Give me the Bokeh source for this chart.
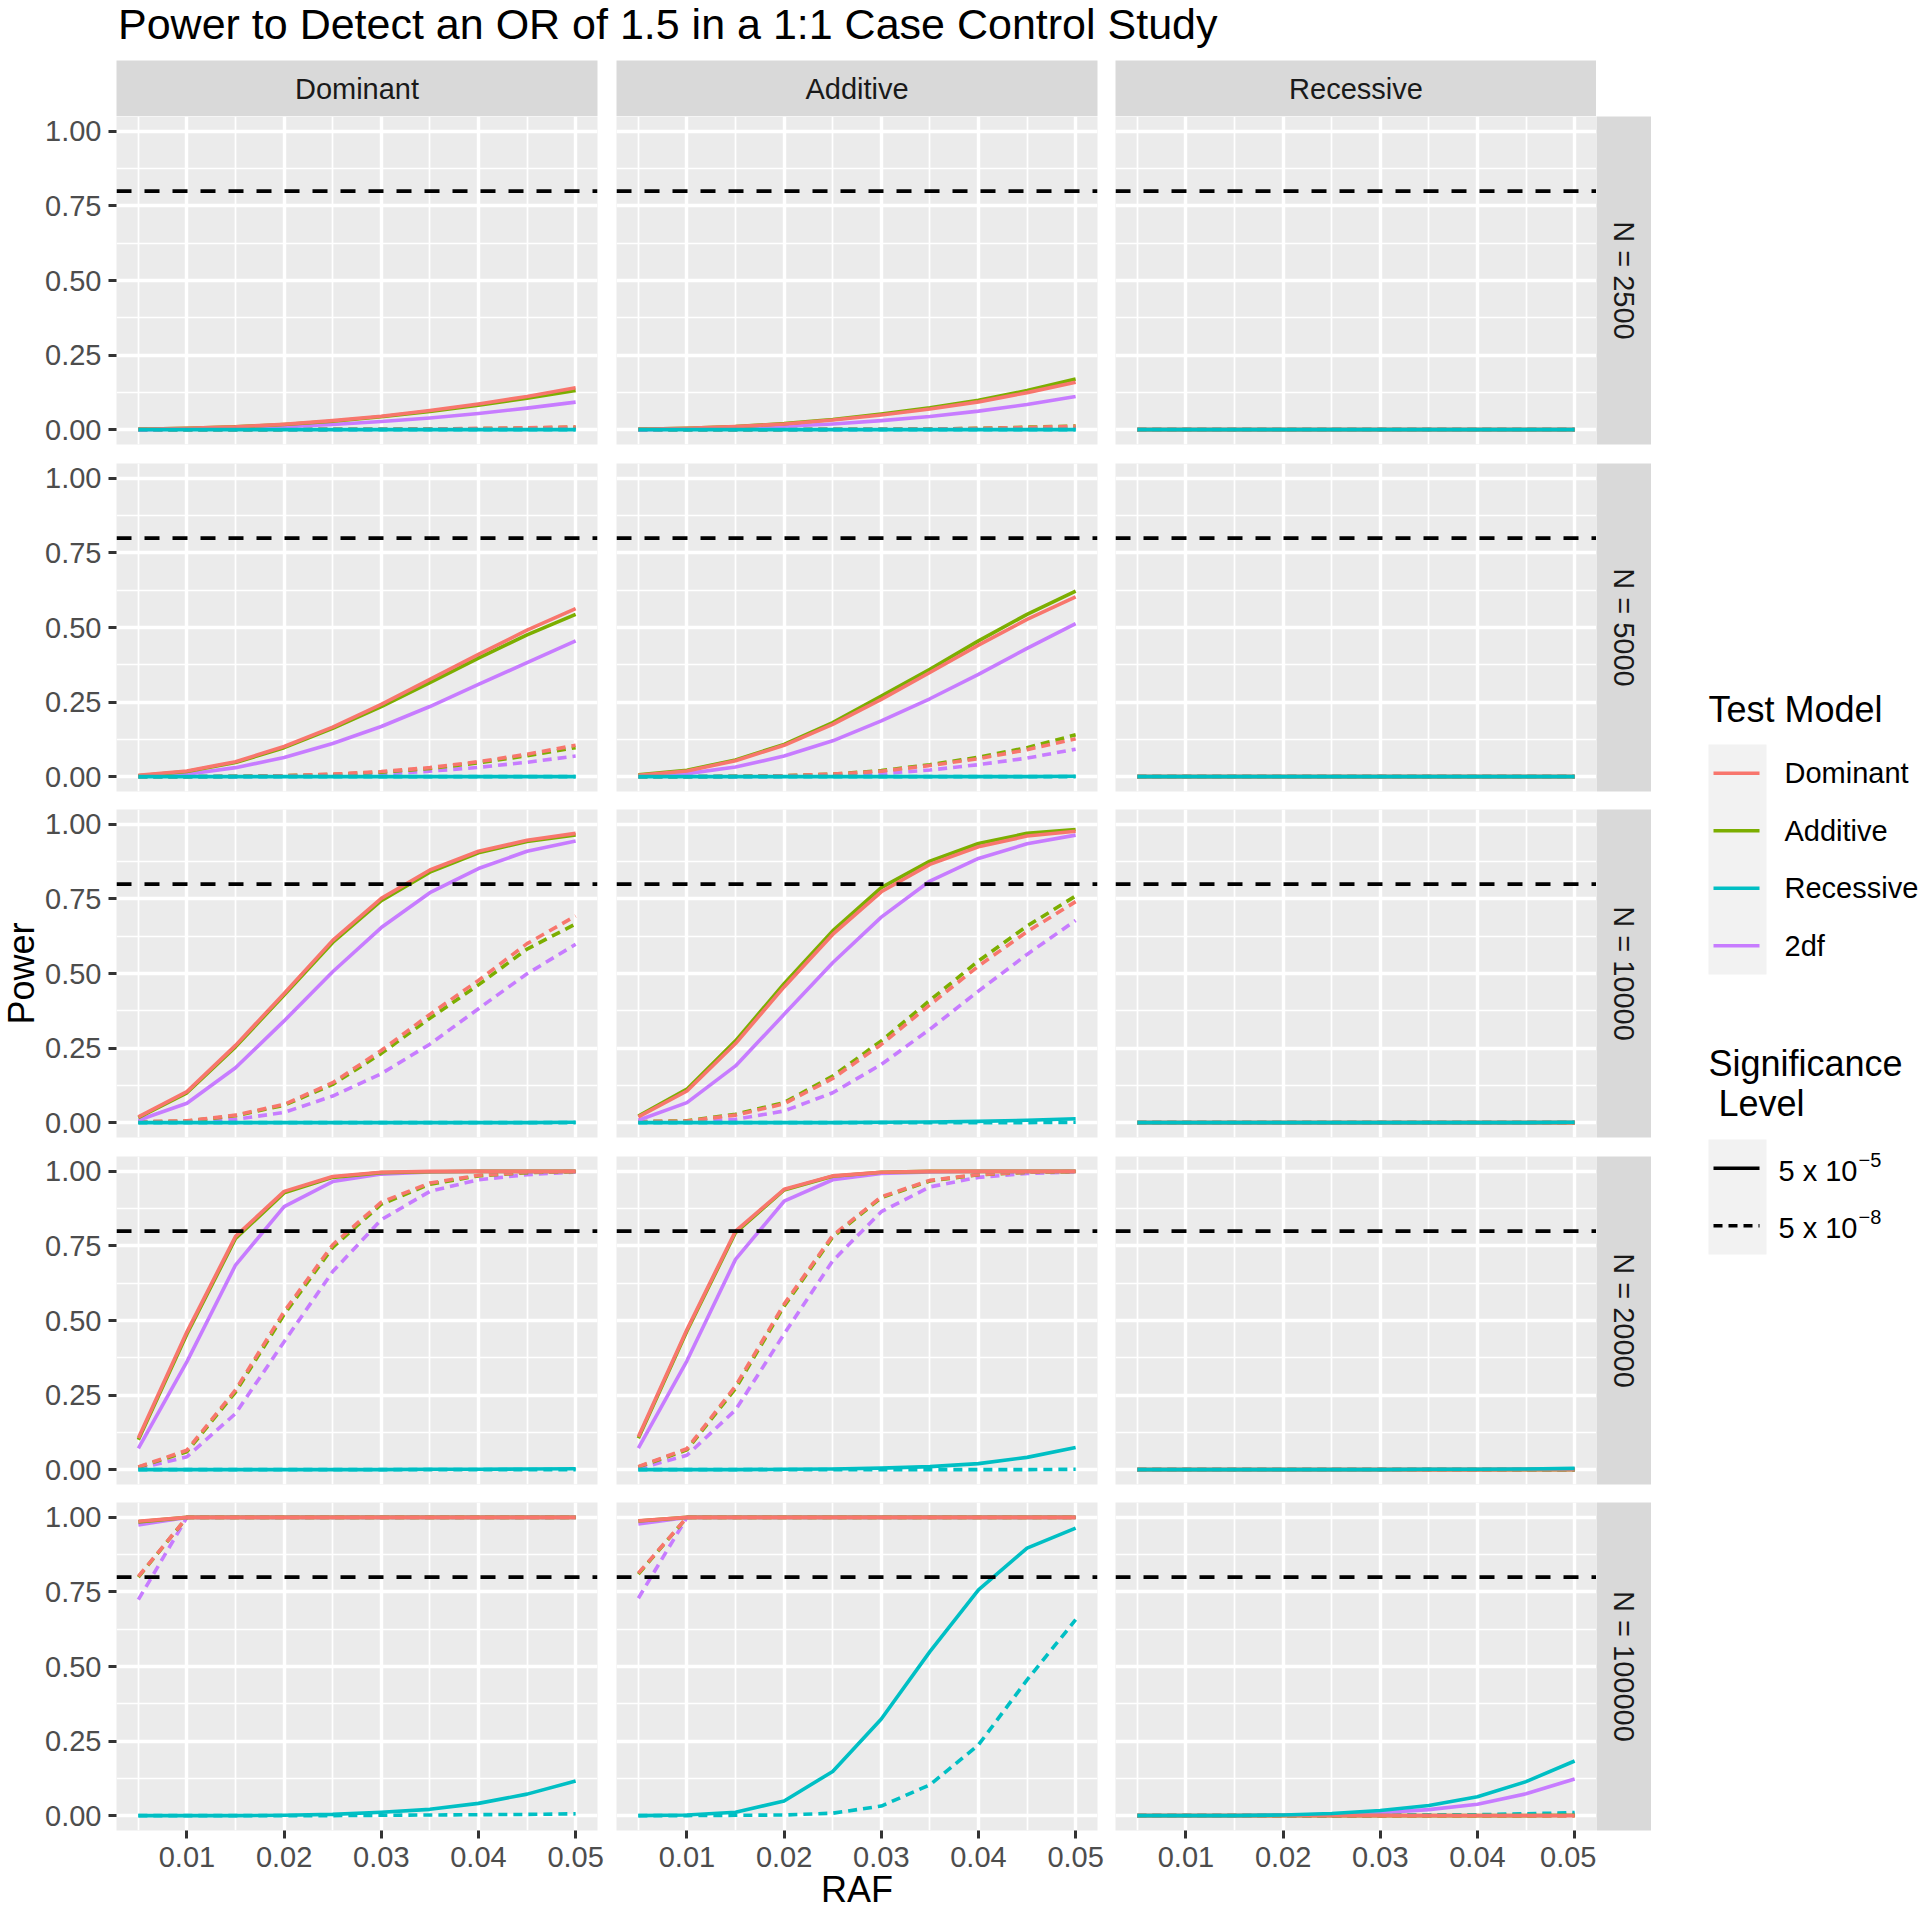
from bokeh.plotting import figure
from bokeh.models import Range1d, FixedTicker, Grid, LinearAxis, NumeralTickFormatter, Span, Spacer
from bokeh.layouts import row, column
from bokeh.core.properties import value
from bokeh.embed import file_html
from bokeh.resources import INLINE
import math

FONT = "Liberation Sans"

# ---------------- data ----------------
RAF = [0.005, 0.010, 0.015, 0.020, 0.025, 0.030, 0.035, 0.040, 0.045, 0.050]
X_TICKS = [0.01, 0.02, 0.03, 0.04, 0.05]
X_MINOR = [0.005, 0.015, 0.025, 0.035, 0.045]
Y_TICKS = [0.0, 0.25, 0.50, 0.75, 1.00]
Y_MINOR = [0.125, 0.375, 0.625, 0.875]
TARGET_POWER = 0.8

GENETIC_MODELS = ["Dominant", "Additive", "Recessive"]
SAMPLE_SIZES = ["N = 2500", "N = 5000", "N = 10000", "N = 20000", "N = 100000"]
TEST_MODELS = ["Dominant", "Additive", "Recessive", "2df"]
TEST_COLORS = ["#F8766D", "#7CAE00", "#00BFC4", "#C77CFF"]
SIG_LEVELS = ["5e-5", "5e-8"]
SIG_BASE = ["5 x 10", "5 x 10"]
SIG_EXP = ["\u22125", "\u22128"]

# ---- true model: Dominant ----
D_2500_E5 = {"Dominant": [0.001, 0.004, 0.009, 0.018, 0.030, 0.045, 0.064, 0.086, 0.111, 0.140],
             "Additive": [0.001, 0.004, 0.009, 0.017, 0.028, 0.043, 0.061, 0.082, 0.105, 0.131],
             "Recessive": [0, 0, 0, 0, 0, 0, 0, 0, 0, 0],
             "2df": [0.000, 0.002, 0.005, 0.010, 0.017, 0.027, 0.039, 0.054, 0.072, 0.092]}
D_2500_E8 = {"Dominant": [0, 0, 0, 0, 0.001, 0.001, 0.002, 0.004, 0.006, 0.009],
             "Additive": [0, 0, 0, 0, 0.001, 0.001, 0.002, 0.003, 0.005, 0.008],
             "Recessive": [0, 0, 0, 0, 0, 0, 0, 0, 0, 0],
             "2df": [0, 0, 0, 0, 0, 0.001, 0.001, 0.002, 0.003, 0.005]}
D_5000_E5 = {"Dominant": [0.004, 0.019, 0.050, 0.101, 0.166, 0.242, 0.326, 0.410, 0.491, 0.563],
             "Additive": [0.003, 0.017, 0.047, 0.097, 0.162, 0.235, 0.315, 0.397, 0.475, 0.544],
             "Recessive": [0, 0, 0, 0, 0, 0, 0, 0, 0, 0],
             "2df": [0.001, 0.008, 0.030, 0.064, 0.111, 0.168, 0.235, 0.309, 0.382, 0.455]}
D_5000_E8 = {"Dominant": [0, 0, 0.001, 0.003, 0.008, 0.017, 0.030, 0.050, 0.075, 0.105],
             "Additive": [0, 0, 0.001, 0.003, 0.007, 0.015, 0.027, 0.046, 0.070, 0.097],
             "Recessive": [0, 0, 0, 0, 0, 0, 0, 0, 0, 0],
             "2df": [0, 0, 0, 0.001, 0.004, 0.009, 0.018, 0.031, 0.048, 0.069]}
D_10000_E5 = {"Dominant": [0.019, 0.104, 0.259, 0.433, 0.611, 0.752, 0.847, 0.910, 0.947, 0.970],
              "Additive": [0.017, 0.100, 0.254, 0.428, 0.604, 0.744, 0.840, 0.905, 0.943, 0.965],
              "Recessive": [0, 0, 0, 0, 0, 0, 0, 0, 0, 0.001],
              "2df": [0.008, 0.065, 0.184, 0.341, 0.506, 0.654, 0.771, 0.852, 0.910, 0.944]}
D_10000_E8 = {"Dominant": [0.003, 0.006, 0.025, 0.061, 0.134, 0.242, 0.363, 0.477, 0.600, 0.693],
              "Additive": [0.002, 0.005, 0.023, 0.058, 0.128, 0.232, 0.350, 0.462, 0.582, 0.666],
              "Recessive": [0, 0, 0, 0, 0, 0, 0, 0, 0, 0],
              "2df": [0.001, 0.003, 0.011, 0.034, 0.089, 0.164, 0.263, 0.382, 0.499, 0.598]}
D_20000_E5 = {"Dominant": [0.106, 0.462, 0.782, 0.933, 0.983, 0.997, 1.000, 1.000, 1.000, 1.000],
              "Additive": [0.100, 0.455, 0.775, 0.928, 0.980, 0.996, 0.999, 1.000, 1.000, 1.000],
              "Recessive": [0, 0, 0, 0, 0, 0, 0.001, 0.001, 0.002, 0.003],
              "2df": [0.071, 0.362, 0.686, 0.882, 0.966, 0.991, 0.998, 1.000, 1.000, 1.000]}
D_20000_E8 = {"Dominant": [0.009, 0.065, 0.267, 0.530, 0.754, 0.897, 0.961, 0.987, 0.997, 1.000],
              "Additive": [0.008, 0.060, 0.260, 0.520, 0.745, 0.890, 0.957, 0.985, 0.996, 0.999],
              "Recessive": [0, 0, 0, 0, 0, 0, 0, 0, 0, 0],
              "2df": [0.003, 0.043, 0.188, 0.429, 0.664, 0.838, 0.933, 0.972, 0.989, 0.998]}
D_100000_E5 = {"Dominant": [0.987, 1.000, 1.000, 1.000, 1.000, 1.000, 1.000, 1.000, 1.000, 1.000],
               "Additive": [0.985, 1.000, 1.000, 1.000, 1.000, 1.000, 1.000, 1.000, 1.000, 1.000],
               "Recessive": [0, 0, 0, 0.001, 0.004, 0.011, 0.021, 0.041, 0.072, 0.116],
               "2df": [0.975, 1.000, 1.000, 1.000, 1.000, 1.000, 1.000, 1.000, 1.000, 1.000]}
D_100000_E8 = {"Dominant": [0.802, 1.000, 1.000, 1.000, 1.000, 1.000, 1.000, 1.000, 1.000, 1.000],
               "Additive": [0.800, 1.000, 1.000, 1.000, 1.000, 1.000, 1.000, 1.000, 1.000, 1.000],
               "Recessive": [0, 0, 0, 0, 0, 0.001, 0.002, 0.003, 0.004, 0.006],
               "2df": [0.724, 1.000, 1.000, 1.000, 1.000, 1.000, 1.000, 1.000, 1.000, 1.000]}

# ---- true model: Additive ----
A_2500_E5 = {"Dominant": [0.001, 0.004, 0.010, 0.019, 0.032, 0.049, 0.069, 0.093, 0.124, 0.159],
             "Additive": [0.001, 0.004, 0.010, 0.020, 0.034, 0.052, 0.073, 0.098, 0.131, 0.170],
             "Recessive": [0, 0, 0, 0, 0, 0, 0, 0, 0, 0],
             "2df": [0.000, 0.002, 0.005, 0.011, 0.019, 0.030, 0.044, 0.062, 0.084, 0.111]}
A_2500_E8 = {"Dominant": [0, 0, 0, 0, 0.001, 0.001, 0.002, 0.004, 0.007, 0.011],
             "Additive": [0, 0, 0, 0, 0.001, 0.001, 0.002, 0.004, 0.008, 0.012],
             "Recessive": [0, 0, 0, 0, 0, 0, 0, 0, 0, 0],
             "2df": [0, 0, 0, 0, 0, 0.001, 0.001, 0.002, 0.004, 0.006]}
A_5000_E5 = {"Dominant": [0.004, 0.019, 0.053, 0.105, 0.175, 0.259, 0.349, 0.441, 0.527, 0.603],
             "Additive": [0.006, 0.021, 0.056, 0.108, 0.181, 0.270, 0.360, 0.455, 0.544, 0.622],
             "Recessive": [0, 0, 0, 0, 0, 0, 0, 0, 0, 0.001],
             "2df": [0.002, 0.010, 0.032, 0.069, 0.120, 0.187, 0.261, 0.343, 0.430, 0.513]}
A_5000_E8 = {"Dominant": [0, 0, 0.001, 0.003, 0.008, 0.018, 0.037, 0.060, 0.090, 0.127],
             "Additive": [0, 0, 0.001, 0.003, 0.008, 0.020, 0.040, 0.065, 0.097, 0.140],
             "Recessive": [0, 0, 0, 0, 0, 0, 0, 0, 0, 0],
             "2df": [0, 0, 0, 0.001, 0.004, 0.010, 0.022, 0.040, 0.062, 0.092]}
A_10000_E5 = {"Dominant": [0.019, 0.106, 0.265, 0.455, 0.631, 0.774, 0.866, 0.925, 0.961, 0.977],
              "Additive": [0.022, 0.112, 0.274, 0.466, 0.643, 0.788, 0.877, 0.936, 0.970, 0.983],
              "Recessive": [0, 0, 0, 0, 0, 0.001, 0.002, 0.004, 0.008, 0.013],
              "2df": [0.008, 0.067, 0.190, 0.363, 0.536, 0.689, 0.810, 0.886, 0.935, 0.964]}
A_10000_E8 = {"Dominant": [0.003, 0.005, 0.025, 0.063, 0.148, 0.262, 0.395, 0.525, 0.640, 0.741],
              "Additive": [0.003, 0.006, 0.028, 0.067, 0.156, 0.274, 0.410, 0.542, 0.659, 0.760],
              "Recessive": [0, 0, 0, 0, 0, 0, 0, 0, 0, 0.001],
              "2df": [0.001, 0.002, 0.011, 0.039, 0.100, 0.195, 0.313, 0.441, 0.564, 0.678]}
A_20000_E5 = {"Dominant": [0.110, 0.470, 0.800, 0.940, 0.985, 0.997, 1.000, 1.000, 1.000, 1.000],
              "Additive": [0.105, 0.465, 0.795, 0.938, 0.984, 0.997, 1.000, 1.000, 1.000, 1.000],
              "Recessive": [0, 0, 0, 0.001, 0.002, 0.005, 0.010, 0.020, 0.041, 0.074],
              "2df": [0.072, 0.365, 0.705, 0.900, 0.972, 0.993, 0.998, 1.000, 1.000, 1.000]}
A_20000_E8 = {"Dominant": [0.010, 0.070, 0.280, 0.555, 0.785, 0.915, 0.970, 0.990, 0.997, 1.000],
              "Additive": [0.009, 0.066, 0.272, 0.548, 0.780, 0.912, 0.968, 0.989, 0.997, 0.999],
              "Recessive": [0, 0, 0, 0, 0, 0, 0, 0, 0, 0.001],
              "2df": [0.003, 0.048, 0.200, 0.455, 0.700, 0.865, 0.948, 0.980, 0.993, 0.998]}
A_100000_E5 = {"Dominant": [0.989, 1.000, 1.000, 1.000, 1.000, 1.000, 1.000, 1.000, 1.000, 1.000],
               "Additive": [0.988, 1.000, 1.000, 1.000, 1.000, 1.000, 1.000, 1.000, 1.000, 1.000],
               "Recessive": [0, 0.002, 0.011, 0.049, 0.148, 0.324, 0.550, 0.757, 0.897, 0.964],
               "2df": [0.978, 1.000, 1.000, 1.000, 1.000, 1.000, 1.000, 1.000, 1.000, 1.000]}
A_100000_E8 = {"Dominant": [0.813, 1.000, 1.000, 1.000, 1.000, 1.000, 1.000, 1.000, 1.000, 1.000],
               "Additive": [0.810, 1.000, 1.000, 1.000, 1.000, 1.000, 1.000, 1.000, 1.000, 1.000],
               "Recessive": [0, 0, 0.001, 0.002, 0.008, 0.032, 0.103, 0.237, 0.455, 0.657],
               "2df": [0.729, 1.000, 1.000, 1.000, 1.000, 1.000, 1.000, 1.000, 1.000, 1.000]}

# ---- true model: Recessive ----
R_2500_E5 = {"Dominant": [0, 0, 0, 0, 0, 0, 0, 0, 0, 0],
             "Additive": [0, 0, 0, 0, 0, 0, 0, 0, 0, 0],
             "Recessive": [0, 0, 0, 0, 0, 0, 0, 0, 0, 0],
             "2df": [0, 0, 0, 0, 0, 0, 0, 0, 0, 0]}
R_2500_E8 = {"Dominant": [0, 0, 0, 0, 0, 0, 0, 0, 0, 0],
             "Additive": [0, 0, 0, 0, 0, 0, 0, 0, 0, 0],
             "Recessive": [0, 0, 0, 0, 0, 0, 0, 0, 0, 0],
             "2df": [0, 0, 0, 0, 0, 0, 0, 0, 0, 0]}
R_5000_E5 = {"Dominant": [0, 0, 0, 0, 0, 0, 0, 0, 0, 0],
             "Additive": [0, 0, 0, 0, 0, 0, 0, 0, 0, 0],
             "Recessive": [0, 0, 0, 0, 0, 0, 0, 0, 0, 0],
             "2df": [0, 0, 0, 0, 0, 0, 0, 0, 0, 0]}
R_5000_E8 = {"Dominant": [0, 0, 0, 0, 0, 0, 0, 0, 0, 0],
             "Additive": [0, 0, 0, 0, 0, 0, 0, 0, 0, 0],
             "Recessive": [0, 0, 0, 0, 0, 0, 0, 0, 0, 0],
             "2df": [0, 0, 0, 0, 0, 0, 0, 0, 0, 0]}
R_10000_E5 = {"Dominant": [0, 0, 0, 0, 0, 0, 0, 0, 0, 0],
              "Additive": [0, 0, 0, 0, 0, 0, 0, 0, 0, 0],
              "Recessive": [0, 0, 0, 0, 0, 0, 0, 0, 0, 0.001],
              "2df": [0, 0, 0, 0, 0, 0, 0, 0, 0, 0]}
R_10000_E8 = {"Dominant": [0, 0, 0, 0, 0, 0, 0, 0, 0, 0],
              "Additive": [0, 0, 0, 0, 0, 0, 0, 0, 0, 0],
              "Recessive": [0, 0, 0, 0, 0, 0, 0, 0, 0, 0],
              "2df": [0, 0, 0, 0, 0, 0, 0, 0, 0, 0]}
R_20000_E5 = {"Dominant": [0, 0, 0, 0, 0, 0, 0, 0, 0, 0],
              "Additive": [0, 0, 0, 0, 0, 0, 0, 0, 0, 0],
              "Recessive": [0, 0, 0, 0, 0, 0, 0.001, 0.001, 0.002, 0.004],
              "2df": [0, 0, 0, 0, 0, 0, 0, 0, 0.001, 0.002]}
R_20000_E8 = {"Dominant": [0, 0, 0, 0, 0, 0, 0, 0, 0, 0],
              "Additive": [0, 0, 0, 0, 0, 0, 0, 0, 0, 0],
              "Recessive": [0, 0, 0, 0, 0, 0, 0, 0, 0, 0],
              "2df": [0, 0, 0, 0, 0, 0, 0, 0, 0, 0]}
R_100000_E5 = {"Dominant": [0, 0, 0, 0, 0, 0, 0, 0, 0, 0],
               "Additive": [0, 0, 0, 0, 0, 0, 0, 0, 0, 0.001],
               "Recessive": [0, 0, 0, 0.002, 0.007, 0.017, 0.034, 0.063, 0.114, 0.183],
               "2df": [0, 0, 0, 0.001, 0.004, 0.010, 0.020, 0.038, 0.073, 0.123]}
R_100000_E8 = {"Dominant": [0, 0, 0, 0, 0, 0, 0, 0, 0, 0],
               "Additive": [0, 0, 0, 0, 0, 0, 0, 0, 0, 0],
               "Recessive": [0, 0, 0, 0, 0, 0.001, 0.002, 0.003, 0.006, 0.010],
               "2df": [0, 0, 0, 0, 0, 0, 0.001, 0.002, 0.003, 0.006]}

PANEL_DATA = {
    "Dominant": [(D_2500_E5, D_2500_E8), (D_5000_E5, D_5000_E8), (D_10000_E5, D_10000_E8),
                 (D_20000_E5, D_20000_E8), (D_100000_E5, D_100000_E8)],
    "Additive": [(A_2500_E5, A_2500_E8), (A_5000_E5, A_5000_E8), (A_10000_E5, A_10000_E8),
                 (A_20000_E5, A_20000_E8), (A_100000_E5, A_100000_E8)],
    "Recessive": [(R_2500_E5, R_2500_E8), (R_5000_E5, R_5000_E8), (R_10000_E5, R_10000_E8),
                  (R_20000_E5, R_20000_E8), (R_100000_E5, R_100000_E8)],
}

# ---------------- style / layout ----------------
PANEL_BG = "#EBEBEB"
STRIP_BG = "#D9D9D9"
KEY_BG = "#F2F2F2"
AXIS_TEXT = "#4D4D4D"
STRIP_TEXT = "#1A1A1A"
TICK_COL = "#333333"
COLOR = dict(zip(TEST_MODELS, TEST_COLORS))
DASH = {"5e-5": "solid", "5e-8": "9 6"}
DRAW_ORDER = ["2df", "Additive", "Dominant", "Recessive"]
LINE_W = 3.6

FRAME_W = 481
FRAME_H = 328
STRIP_H = 56
RSTRIP_W = 55
COL_BL = [74, 9, 9]
COL_BR = [10, 9, 0]
ROW_BT = [0, 9, 9, 9, 9]
ROW_BB = [10, 9, 10, 9, 50]

x_span = max(RAF) - min(RAF)
X_LO, X_HI = min(RAF) - 0.05 * x_span, max(RAF) + 0.05 * x_span
Y_LO, Y_HI = -0.05, 1.05


def blank(width, height, bg="white", x_range=None, y_range=None, bl=0, br=0, bt=0, bb=0, **kw):
    p = figure(width=width, height=height, toolbar_location=None, tools="",
               output_backend="svg", x_axis_type=None, y_axis_type=None,
               x_range=x_range if x_range is not None else Range1d(0, 1),
               y_range=y_range if y_range is not None else Range1d(0, 1),
               background_fill_color=bg, border_fill_color="white",
               outline_line_color=None, **kw)
    p.min_border = 0
    p.min_border_left, p.min_border_right = bl, br
    p.min_border_top, p.min_border_bottom = bt, bb
    return p


def make_panel(gi, ni):
    bl, br, bt, bb = COL_BL[gi], COL_BR[gi], ROW_BT[ni], ROW_BB[ni]
    p = figure(width=bl + FRAME_W + br, height=bt + FRAME_H + bb,
               x_range=Range1d(X_LO, X_HI), y_range=Range1d(Y_LO, Y_HI),
               x_axis_type=None, y_axis_type=None, toolbar_location=None, tools="",
               output_backend="svg", background_fill_color=PANEL_BG,
               border_fill_color="white", outline_line_color=None)
    p.min_border = 0
    p.min_border_left, p.min_border_right = bl, br
    p.min_border_top, p.min_border_bottom = bt, bb

    xg = Grid(dimension=0, ticker=FixedTicker(ticks=X_TICKS, minor_ticks=X_MINOR),
              grid_line_color="white", grid_line_width=3.4,
              minor_grid_line_color="white", minor_grid_line_width=1.7)
    yg = Grid(dimension=1, ticker=FixedTicker(ticks=Y_TICKS, minor_ticks=Y_MINOR),
              grid_line_color="white", grid_line_width=3.4,
              minor_grid_line_color="white", minor_grid_line_width=1.7)
    p.add_layout(xg)
    p.add_layout(yg)

    axis_style = dict(axis_line_color=None, major_tick_line_color=TICK_COL,
                      major_tick_line_width=3, major_tick_in=0, major_tick_out=8,
                      minor_tick_line_color=None,
                      major_label_text_font=FONT, major_label_text_font_size="29px",
                      major_label_text_color=AXIS_TEXT,
                      formatter=NumeralTickFormatter(format="0.00"))
    if gi == 0:
        ax = LinearAxis(ticker=FixedTicker(ticks=Y_TICKS, minor_ticks=[]),
                        major_label_standoff=7, **axis_style)
        p.add_layout(ax, "left")
    if ni == len(SAMPLE_SIZES) - 1:
        ax = LinearAxis(ticker=FixedTicker(ticks=X_TICKS, minor_ticks=[]),
                        major_label_standoff=8, **axis_style)
        p.add_layout(ax, "below")

    solid, dashed = PANEL_DATA[GENETIC_MODELS[gi]][ni]
    for sig, dset in (("5e-8", dashed), ("5e-5", solid)):
        for tm in DRAW_ORDER:
            p.line(RAF, dset[tm], line_color=COLOR[tm], line_width=LINE_W,
                   line_dash=DASH[sig], line_join="round")

    p.add_layout(Span(location=TARGET_POWER, dimension="width", line_color="black",
                      line_width=3.8, line_dash="15 13"))
    return p


def top_strip(gi):
    p = blank(COL_BL[gi] + FRAME_W + COL_BR[gi], STRIP_H, bg=STRIP_BG,
              bl=COL_BL[gi], br=COL_BR[gi])
    p.text(x=[0.5], y=[0.5], text=[GENETIC_MODELS[gi]], text_align="center",
           text_baseline="middle", text_font=value(FONT),
           text_font_size=value("29px"), text_color=STRIP_TEXT)
    return p


def right_strip(ni):
    p = blank(RSTRIP_W, ROW_BT[ni] + FRAME_H + ROW_BB[ni], bg=STRIP_BG,
              bt=ROW_BT[ni], bb=ROW_BB[ni])
    p.text(x=[0.5], y=[0.5], text=[SAMPLE_SIZES[ni]], angle=-math.pi / 2,
           text_align="center", text_baseline="middle", text_font=value(FONT),
           text_font_size=value("29px"), text_color=STRIP_TEXT)
    return p


columns = []
for gi in range(3):
    figs = [top_strip(gi)] + [make_panel(gi, ni) for ni in range(5)]
    columns.append(column(*figs, spacing=0))
rcol = column(Spacer(width=RSTRIP_W, height=STRIP_H),
              *[right_strip(ni) for ni in range(5)], spacing=0)

MID_H = STRIP_H + sum(ROW_BT[i] + FRAME_H + ROW_BB[i] for i in range(5))
YLAB_W = 42
LEG_W = 268
TOTAL_W = YLAB_W + sum(COL_BL[i] + FRAME_W + COL_BR[i] for i in range(3)) + RSTRIP_W + LEG_W

# y axis title
ylab = blank(YLAB_W, MID_H, x_range=Range1d(0, YLAB_W), y_range=Range1d(MID_H, 0))
panel_mid = STRIP_H + (ROW_BT[0] + FRAME_H + ROW_BB[0]) + (ROW_BT[1] + FRAME_H + ROW_BB[1]) + ROW_BT[2] + FRAME_H / 2
ylab.text(x=[21], y=[panel_mid], text=["Power"], angle=math.pi / 2, text_align="center",
          text_baseline="middle", text_font=value(FONT), text_font_size=value("36px"),
          text_color="black")

# legend (drawn in a pixel-coordinate canvas)
leg = blank(LEG_W, MID_H, x_range=Range1d(0, LEG_W), y_range=Range1d(MID_H, 0))
txt = dict(text_font=value(FONT), text_color="black", text_baseline="middle")
leg.text(x=[57], y=[649], text=["Test Model"], text_font_size=value("36px"), **txt)
KEY_H = 57.5
k0 = 684
leg.quad(left=[57], right=[115], top=[k0], bottom=[k0 + KEY_H * len(TEST_MODELS)],
         fill_color=KEY_BG, line_color=None)
for i, (tm, col) in enumerate(zip(TEST_MODELS, TEST_COLORS)):
    yc = k0 + KEY_H * (i + 0.5)
    leg.line([62, 108], [yc, yc], line_color=col, line_width=LINE_W)
    leg.text(x=[133], y=[yc], text=[tm], text_font_size=value("29px"), **txt)

leg.text(x=[57], y=[1003], text=["Significance"], text_font_size=value("36px"), **txt)
leg.text(x=[67], y=[1043], text=["Level"], text_font_size=value("36px"), **txt)
k1 = 1079
leg.quad(left=[57], right=[115], top=[k1], bottom=[k1 + KEY_H * len(SIG_LEVELS)],
         fill_color=KEY_BG, line_color=None)
for i, sig in enumerate(SIG_LEVELS):
    yc = k1 + KEY_H * (i + 0.5)
    leg.line([62, 108], [yc, yc], line_color="black", line_width=LINE_W, line_dash=DASH[sig])
    leg.text(x=[127], y=[yc + 2.5], text=[SIG_BASE[i]], text_font_size=value("29px"), **txt)
    leg.text(x=[207], y=[yc - 8.5], text=[SIG_EXP[i]], text_font_size=value("20px"), **txt)

middle = row(ylab, *columns, rcol, leg, spacing=0)

# title
TITLE_H = 60
title = blank(TOTAL_W, TITLE_H, x_range=Range1d(0, TOTAL_W), y_range=Range1d(TITLE_H, 0))
title.text(x=[117.5], y=[23], text=["Power to Detect an OR of 1.5 in a 1:1 Case Control Study"],
           text_baseline="middle", text_align="left", text_font=value(FONT),
           text_font_size=value("43px"), text_color="black")

# x axis title (transparent strip pulled up slightly over the empty bottom border)
XLAB_H = 40
XLAB_PULL = TITLE_H + MID_H + XLAB_H - 1909
xlab = blank(TOTAL_W, XLAB_H, x_range=Range1d(0, TOTAL_W), y_range=Range1d(XLAB_H, 0),
             styles={"margin-top": f"-{XLAB_PULL}px"})
xlab.background_fill_alpha = 0
xlab.border_fill_alpha = 0
mid_col_center = YLAB_W + COL_BL[0] + FRAME_W + COL_BR[0] + COL_BL[1] + FRAME_W / 2
xlab.text(x=[mid_col_center], y=[20], text=["RAF"], text_align="center",
          text_baseline="middle", text_font=value(FONT), text_font_size=value("36px"),
          text_color="black")

layout = column(title, middle, xlab, spacing=0)

with open("out.html", "w") as f:
    f.write(file_html(layout, INLINE, title="Power to Detect an OR of 1.5"))
